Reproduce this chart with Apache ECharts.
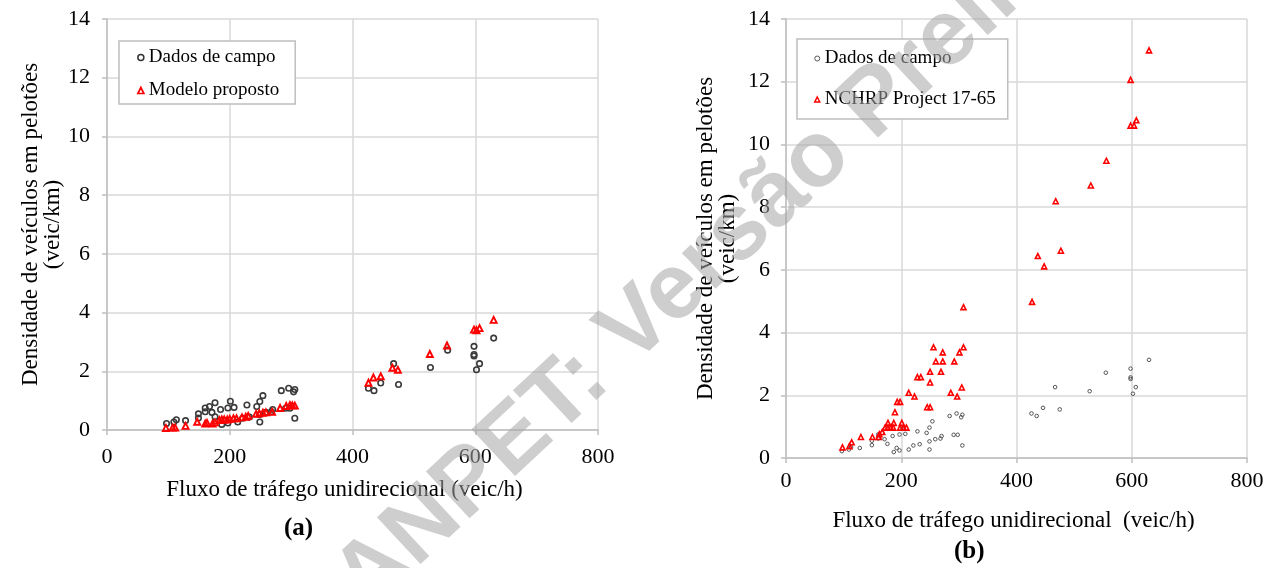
<!DOCTYPE html>
<html>
<head>
<meta charset="utf-8">
<script src="https://cdn.jsdelivr.net/npm/echarts@6/dist/echarts.min.js"></script>
<style>
  html, body { margin: 0; padding: 0; background: #fff; }
  #chart { width: 1278px; height: 568px; }
</style>
</head>
<body>
<div id="chart"></div>
<script>
// Dados de campo (same observations in both panels)
var fieldFlow = [97, 109, 113, 128, 149, 149, 160, 160, 167, 171, 176, 176, 185, 187, 192, 197, 197, 201, 207, 213,
  221, 228, 232, 244, 249, 249, 249, 254, 259, 268, 270, 284, 291, 296, 298, 304, 306, 306,
  426, 435, 446, 467, 475, 527, 555, 598, 598, 598, 602, 607, 630];
var fieldDensity = [0.22, 0.27, 0.35, 0.32, 0.41, 0.55, 0.62, 0.75, 0.80, 0.60, 0.45, 0.93, 0.70, 0.19, 0.32, 0.24, 0.75, 0.98, 0.77, 0.27,
  0.40, 0.85, 0.44, 0.80, 0.97, 0.27, 0.53, 1.17, 0.60, 0.62, 0.70, 1.34, 0.74, 1.42, 0.74, 1.30, 1.38, 0.40,
  1.42, 1.34, 1.60, 2.26, 1.55, 2.13, 2.72, 2.85, 2.57, 2.52, 2.05, 2.26, 3.13];

// Modelo proposto (panel a)
var modelFlow = [96, 107, 111, 128, 147, 160, 163, 172, 176, 183, 187, 191, 196, 200, 206, 211, 220, 226, 230, 243,
  248, 254, 259, 269, 282, 292, 298, 302, 306,
  426, 434, 446, 465, 474, 526, 554, 598, 602, 607, 630];
var modelDensity = [0.07, 0.08, 0.08, 0.14, 0.28, 0.22, 0.24, 0.22, 0.26, 0.34, 0.36, 0.36, 0.36, 0.38, 0.40, 0.40, 0.43, 0.45, 0.48, 0.55,
  0.57, 0.59, 0.60, 0.62, 0.75, 0.82, 0.85, 0.84, 0.83,
  1.61, 1.79, 1.83, 2.12, 2.05, 2.59, 2.88, 3.42, 3.40, 3.47, 3.75];

// NCHRP Project 17-65 (panel b)
var nchrpFlow = [98, 110, 114, 130, 150, 161, 162, 167, 172, 177, 177, 182, 186, 187, 189, 193, 198, 198, 201, 204,
  209, 213, 223, 228, 234, 245, 250, 250, 250, 256, 260, 269, 272, 272, 286, 292, 297, 301, 305, 308, 308,
  427, 437, 448, 468, 477, 529, 556, 598, 598, 604, 608, 630];
var nchrpDensity = [0.34, 0.38, 0.50, 0.67, 0.67, 0.67, 0.76, 0.83, 0.97, 1.12, 0.97, 0.97, 0.97, 1.12, 1.46, 1.79, 1.79, 0.97, 1.12, 0.97,
  0.97, 2.08, 1.96, 2.58, 2.58, 1.62, 1.62, 2.75, 2.41, 3.53, 3.08, 2.75, 3.08, 3.37, 2.08, 3.08, 1.96, 3.37, 2.25, 3.53, 4.81,
  4.98, 6.44, 6.11, 8.19, 6.61, 8.69, 9.48, 12.06, 10.60, 10.60, 10.77, 13.00];

var xTicks = { min: 0, max: 800, interval: 200 };
var yTicks = { min: 0, max: 14, interval: 2 };

var SERIF = '"Liberation Serif", "Times New Roman", serif';
var AXIS_GREY = '#bfbfbf';
var GRID_GREY = '#d9d9d9';

function pairs(xs, ys) {
  return xs.map(function(x, i) { return [x, ys[i]]; });
}

function xAxisCfg(gridIndex, gap, labelMargin, namePad) {
  return {
    gridIndex: gridIndex, type: 'value',
    min: xTicks.min, max: xTicks.max, interval: xTicks.interval,
    name: gridIndex === 0 ? 'Fluxo de tráfego unidirecional (veic/h)' : 'Fluxo de tráfego unidirecional  (veic/h)',
    nameLocation: 'middle', nameGap: gap,
    nameTextStyle: { fontFamily: SERIF, fontSize: 23, color: '#000', padding: namePad },
    axisLine: { lineStyle: { color: AXIS_GREY, width: 1.5 } },
    axisTick: { show: true, length: 5, lineStyle: { color: AXIS_GREY, width: 1.5 } },
    axisLabel: { fontFamily: SERIF, fontSize: 22, color: '#000', margin: labelMargin },
    splitLine: { show: true, lineStyle: { color: GRID_GREY, width: 1.5 } }
  };
}

function yAxisCfg(gridIndex, gap, labelMargin) {
  return {
    gridIndex: gridIndex, type: 'value',
    min: yTicks.min, max: yTicks.max, interval: yTicks.interval,
    name: 'Densidade de veículos em pelotões\n(veic/km)',
    nameLocation: 'middle', nameGap: gap, nameRotate: 90,
    nameTextStyle: { fontFamily: SERIF, fontSize: 23, color: '#000', lineHeight: 22 },
    axisLine: { show: true, lineStyle: { color: AXIS_GREY, width: 1.5 } },
    axisTick: { show: true, length: 5, lineStyle: { color: AXIS_GREY, width: 1.5 } },
    axisLabel: { fontFamily: SERIF, fontSize: 22, color: '#000', margin: labelMargin },
    splitLine: { show: true, lineStyle: { color: GRID_GREY, width: 1.5 } }
  };
}

var chart = echarts.init(document.getElementById('chart'));

chart.setOption({
  animation: false,
  backgroundColor: '#fff',
  grid: [
    { left: 107, top: 19, width: 491, height: 411 },
    { left: 786, top: 19, width: 461, height: 439 }
  ],
  xAxis: [xAxisCfg(0, 48, 16, [0, 16, 0, 0]), xAxisCfg(1, 51, 12, [0, 6, 0, 0])],
  yAxis: [yAxisCfg(0, 41, 17), yAxisCfg(1, 47, 16)],
  legend: [
    {
      left: 119, top: 41, orient: 'vertical',
      padding: [7, 16, 4, 18], itemGap: 14, itemWidth: 6, itemHeight: 6,
      borderColor: AXIS_GREY, borderWidth: 1.5, backgroundColor: '#fff',
      textStyle: { fontFamily: SERIF, fontSize: 19, color: '#000' },
      selectedMode: false,
      data: [
        { name: 'Dados de campo', icon: 'circle', itemStyle: { color: 'rgba(0,0,0,0)', borderColor: '#333', borderWidth: 1.5 } },
        { name: 'Modelo proposto', icon: 'triangle', itemStyle: { color: 'rgba(0,0,0,0)', borderColor: '#ff0000', borderWidth: 1.7 } }
      ]
    },
    {
      left: 797, top: 39, orient: 'vertical',
      padding: [10, 12, 10, 17], itemGap: 22, itemWidth: 5, itemHeight: 5,
      borderColor: AXIS_GREY, borderWidth: 1.5, backgroundColor: '#fff',
      textStyle: { fontFamily: SERIF, fontSize: 19, color: '#000' },
      selectedMode: false,
      data: [
        { name: 'Dados de campo', icon: 'circle', itemStyle: { color: 'rgba(0,0,0,0)', borderColor: '#555', borderWidth: 1 } },
        { name: 'NCHRP Project 17-65', icon: 'triangle', itemStyle: { color: 'rgba(0,0,0,0)', borderColor: '#ff0000', borderWidth: 1.5 } }
      ]
    }
  ],
  series: [
    {
      name: 'Dados de campo', type: 'scatter', xAxisIndex: 0, yAxisIndex: 0,
      symbol: 'circle', symbolSize: 5.5,
      itemStyle: { color: 'rgba(0,0,0,0)', borderColor: '#3a3a3a', borderWidth: 1.6, opacity: 1 },
      data: pairs(fieldFlow, fieldDensity)
    },
    {
      name: 'Modelo proposto', type: 'scatter', xAxisIndex: 0, yAxisIndex: 0,
      symbol: 'triangle', symbolSize: 6,
      itemStyle: { color: 'rgba(0,0,0,0)', borderColor: '#ff0000', borderWidth: 1.9, opacity: 1 },
      data: pairs(modelFlow, modelDensity)
    },
    {
      name: 'Dados de campo', type: 'scatter', xAxisIndex: 1, yAxisIndex: 1,
      symbol: 'circle', symbolSize: 3.6,
      itemStyle: { color: 'rgba(0,0,0,0)', borderColor: '#555', borderWidth: 1, opacity: 1 },
      data: pairs(fieldFlow, fieldDensity)
    },
    {
      name: 'NCHRP Project 17-65', type: 'scatter', xAxisIndex: 1, yAxisIndex: 1,
      symbol: 'triangle', symbolSize: 5,
      itemStyle: { color: 'rgba(0,0,0,0)', borderColor: '#ff0000', borderWidth: 1.6, opacity: 1 },
      data: pairs(nchrpFlow, nchrpDensity)
    }
  ],
  graphic: [
    {
      type: 'text', left: 284, top: 516, z: 50,
      style: { text: '(a)', font: 'bold 25px ' + SERIF, fill: '#000' }
    },
    {
      type: 'text', left: 954, top: 539, z: 50,
      style: { text: '(b)', font: 'bold 25px ' + SERIF, fill: '#000' }
    },
    {
      // preprint watermark
      type: 'text', x: 769, y: 204, rotation: 43 * Math.PI / 180, z: 100, silent: true,
      style: {
        text: 'ANPET: Versão Preliminar', font: 'bold 93px "Liberation Sans", Arial, sans-serif',
        fill: 'rgba(165,165,165,0.55)', align: 'center', verticalAlign: 'middle'
      }
    }
  ]
});
</script>
</body>
</html>
